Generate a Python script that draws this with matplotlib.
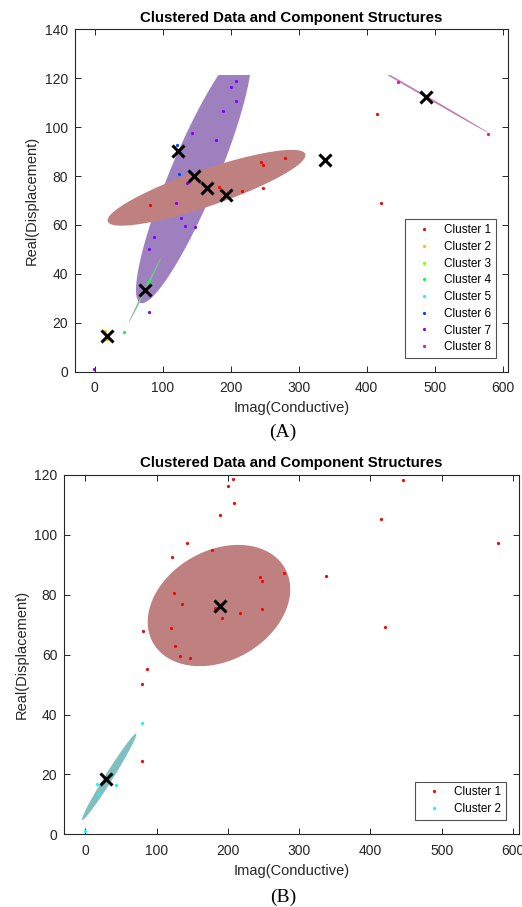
import colorsys
import numpy as np
import matplotlib.pyplot as plt

# measured points (same observations in both panels)
pt_x = [207.5, 200.5, 207.9, 189.3, 415.0, 446.2, 579.0, 142.4, 178.0, 121.3,
        279.4, 337.9, 245.3, 247.2, 124.6, 136.0, 247.2, 217.3, 192.1, 421.0,
        81.0, 119.8, 126.2, 132.2, 147.5, 86.7, 79.6, 80.2, 79.8, 43.0,
        15.8, 17.7, -0.6, 182.2]
pt_y = [118.8, 116.3, 110.5, 106.5, 105.4, 118.3, 97.3, 97.4, 94.8, 92.6,
        87.3, 86.4, 85.9, 84.5, 80.7, 77.0, 75.3, 74.0, 72.2, 69.1,
        68.0, 68.8, 63.0, 59.5, 59.0, 55.2, 50.3, 37.1, 24.6, 16.4,
        16.7, 13.5, 1.0, 75.6]

# cluster of each point
lab_a = [7, 7, 7, 7, 1, 8, 8, 7, 7, 6,
         1, 5, 1, 1, 6, 7, 1, 1, 3, 1,
         1, 7, 7, 7, 7, 7, 7, 4, 7, 4,
         2, 2, 7, 1]
lab_b = [1, 1, 1, 1, 1, 1, 1, 1, 1, 1,
         1, 1, 1, 1, 1, 1, 1, 1, 1, 1,
         1, 1, 1, 1, 1, 1, 1, 2, 1, 2,
         2, 2, 2, 1]

# component means (crosses)
cen_a_x = [164.5, 18.0, 193.5, 73.3, 339.2, 122.4, 145.4, 487.9]
cen_a_y = [75.2, 14.6, 72.3, 33.4, 86.6, 90.4, 80.2, 112.4]
cen_b_x = [188.3, 29.4]
cen_b_y = [76.4, 18.3]

# component ellipses: cluster, centre, half width, half height, correlation
ell_a_k = [7, 4, 8, 1]
ell_a_cx = [145.4, 73.8, 487.9, 164.5]
ell_a_cy = [80.2, 33.3, 112.4, 75.2]
ell_a_sx = [84.7, 24.0, 91.1, 145.5]
ell_a_sy = [52.2, 13.3, 14.7, 15.5]
ell_a_r = [0.896, 0.998, -0.9995, 0.86]

ell_b_k = [2, 1]
ell_b_cx = [33.5, 187.5]
ell_b_cy = [19.2, 76.4]
ell_b_sx = [38.2, 100.0]
ell_b_sy = [14.45, 20.25]
ell_b_r = [0.985, 0.27]

DARK = '#262626'


def ellipse_xy(cx, cy, sx, sy, r, xmax=None, ymax=None):
    t = np.linspace(0, 2 * np.pi, 600)
    x = cx + sx * np.cos(t)
    y = cy + sy * (r * np.cos(t) + np.sqrt(1 - r ** 2) * np.sin(t))
    if xmax is not None:
        x = np.minimum(x, xmax)
    if ymax is not None:
        y = np.minimum(y, ymax)
    return x, y


def panel(ax, n, lab, cx, cy, ek, ecx, ecy, esx, esy, er, ytop, yticks, clip):
    cols = [colorsys.hsv_to_rgb(i / n, 1, 1) for i in range(n)]
    for k, a, b, sx, sy, r in zip(ek, ecx, ecy, esx, esy, er):
        c = np.array(cols[k - 1])
        ex, ey = ellipse_xy(a, b, sx, sy, r, *clip)
        ax.fill(ex, ey, color=0.25 * c + 0.5, lw=0, zorder=1)
    px = np.array(pt_x)
    py = np.array(pt_y)
    lab = np.array(lab)
    for k in range(1, n + 1):
        m = lab == k
        ax.plot(px[m], py[m], 'o', ms=2.3, mec='none', color=cols[k - 1],
                label=f'Cluster {k}', zorder=3)
    ax.plot(cx, cy, 'x', ms=9, mew=2.2, color='k', zorder=4)

    ax.set_xlim(-29.5, 608.5)
    ax.set_ylim(0, ytop)
    ax.set_xticks(range(0, 601, 100))
    ax.set_yticks(yticks)
    ax.tick_params(direction='in', top=True, right=True, length=4,
                   width=0.7, color=DARK, labelcolor=DARK, labelsize=10)
    ax.tick_params(axis='x', pad=7)
    ax.tick_params(axis='y', pad=5)
    for s in ax.spines.values():
        s.set_color(DARK)
        s.set_linewidth(0.8)
    ax.set_title('Clustered Data and Component Structures', fontsize=10.8,
                 fontweight='bold', color='k', pad=5.5)
    ax.set_xlabel('Imag(Conductive)', fontsize=10.5, color=DARK)
    ax.set_ylabel('Real(Displacement)', fontsize=10.5, color=DARK)
    leg = ax.legend(loc='lower right', bbox_to_anchor=(0.971, 0.04),
                    fontsize=8.5, frameon=True, fancybox=False,
                    handlelength=2.4, handletextpad=0.5, labelspacing=0.4,
                    borderpad=0.4, borderaxespad=0, markerscale=1.0)
    leg.get_frame().set_edgecolor(DARK)
    leg.get_frame().set_linewidth(0.8)


plt.rcParams['font.family'] = ['Liberation Sans', 'DejaVu Sans']

fig = plt.figure(figsize=(5.22, 9.07), dpi=100)
ax1 = fig.add_axes([0.1431, 0.5902, 0.8307, 0.3775])
ax2 = fig.add_axes([0.1232, 0.0802, 0.8711, 0.3961])

panel(ax1, 8, lab_a, cen_a_x, cen_a_y, ell_a_k, ell_a_cx, ell_a_cy,
      ell_a_sx, ell_a_sy, ell_a_r, 140, range(0, 141, 20), (579.0, 121.3))
panel(ax2, 2, lab_b, cen_b_x, cen_b_y, ell_b_k, ell_b_cx, ell_b_cy,
      ell_b_sx, ell_b_sy, ell_b_r, 120, range(0, 121, 20), (None, None))

fig.text(283 / 522, 1 - 432 / 907, '(A)', ha='center', va='center',
         fontsize=14, family='Liberation Serif')
fig.text(283 / 522, 1 - 897 / 907, '(B)', ha='center', va='center',
         fontsize=14, family='Liberation Serif')

fig.savefig('out.png', dpi=100)
